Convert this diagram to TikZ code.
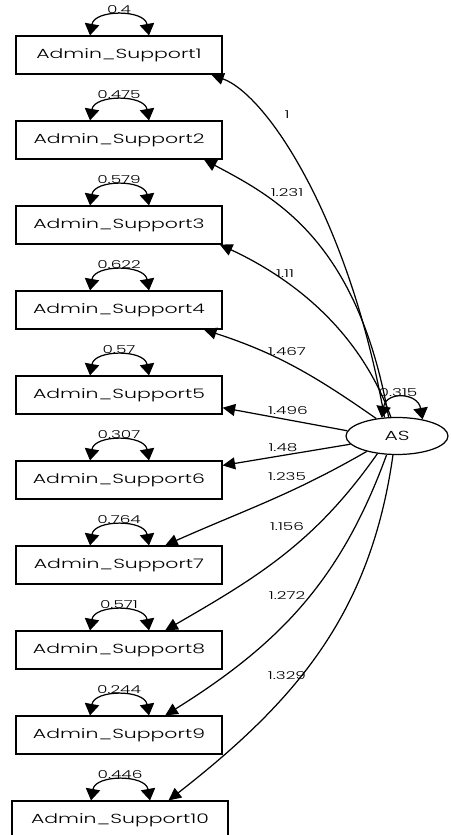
\documentclass[tikz,border=0pt]{standalone}
\usepackage{fontspec}
\setmainfont{Poppins}[FakeStretch=1.55, UprightFont=* Light]
\usetikzlibrary{arrows.meta,shapes.geometric}

\begin{document}
\begin{tikzpicture}[
    x=0.02cm, y=0.02cm,
    box/.style={draw, line width=0.7pt, minimum width=4.12cm, minimum height=0.76cm, inner sep=0pt, font=\fontsize{7.5}{9}\selectfont},
    latent/.style={draw, ellipse, line width=0.7pt, minimum width=2.04cm, minimum height=0.74cm, inner sep=0pt, font=\fontsize{7.5}{9}\selectfont},
    arrow/.style={-{Triangle[length=0.25cm,width=0.24cm]}, line width=0.7pt},
    dbl/.style={{Triangle[length=0.23cm,width=0.29cm]}-{Triangle[length=0.23cm,width=0.29cm]}, line width=0.7pt, out=80, in=100, looseness=1.15},
    coef/.style={font=\fontsize{6.2}{7}\selectfont, inner sep=0pt}
]
    \useasboundingbox (0,0) rectangle (450,835);

    % Indicators
    \node[box] (as1) at (119,780) {Admin\_Support1};
    \node[box] (as2) at (119,695) {Admin\_Support2};
    \node[box] (as3) at (119,610) {Admin\_Support3};
    \node[box] (as4) at (119,525) {Admin\_Support4};
    \node[box] (as5) at (119,440) {Admin\_Support5};
    \node[box] (as6) at (119,355) {Admin\_Support6};
    \node[box] (as7) at (119,270) {Admin\_Support7};
    \node[box] (as8) at (119,185) {Admin\_Support8};
    \node[box] (as9) at (119,100) {Admin\_Support9};
    \node[box, minimum width=4.32cm] (as10) at (120,15) {Admin\_Support10};

    % Latent factor
    \node[latent] (AS) at (397,399) {AS};

    % Error variances
    \draw[dbl] ([xshift=-0.58cm]as1.north) to ([xshift=0.6cm]as1.north);
    \draw[dbl] ([xshift=-0.58cm]as2.north) to ([xshift=0.6cm]as2.north);
    \draw[dbl] ([xshift=-0.58cm]as3.north) to ([xshift=0.6cm]as3.north);
    \draw[dbl] ([xshift=-0.58cm]as4.north) to ([xshift=0.6cm]as4.north);
    \draw[dbl] ([xshift=-0.58cm]as5.north) to ([xshift=0.6cm]as5.north);
    \draw[dbl] ([xshift=-0.58cm]as6.north) to ([xshift=0.6cm]as6.north);
    \draw[dbl] ([xshift=-0.58cm]as7.north) to ([xshift=0.6cm]as7.north);
    \draw[dbl] ([xshift=-0.58cm]as8.north) to ([xshift=0.6cm]as8.north);
    \draw[dbl] ([xshift=-0.58cm]as9.north) to ([xshift=0.6cm]as9.north);
    \draw[dbl] ([xshift=-0.58cm]as10.north) to ([xshift=0.6cm]as10.north);
    \draw[dbl, looseness=1.7] (AS.130) to (AS.33);

    \node[coef] at (119,825) {0.4};
    \node[coef] at (119,740) {0.475};
    \node[coef] at (119,655) {0.579};
    \node[coef] at (119,570) {0.622};
    \node[coef] at (119,485) {0.57};
    \node[coef] at (119,400) {0.307};
    \node[coef] at (119,315) {0.764};
    \node[coef] at (119,230) {0.571};
    \node[coef] at (119,145) {0.244};
    \node[coef] at (120,60) {0.446};
    \node[coef] at (398,442) {0.315};

    % Loadings
    \draw[arrow] (AS.124) .. controls +(100:200) and +(-20:60) .. (as1.-12);
    \draw[arrow] (AS.114) .. controls +(100:180) and +(-28:80) .. (as2.-13);
    \draw[arrow] (AS.108) .. controls +(110:100) and +(-25:70) .. (as3.-11);
    \draw[arrow] (AS.140) to[out=145,in=-18] (as4.-13);
    \draw[arrow] (AS.174) -- (as5.-7);
    \draw[arrow] (AS.190) -- (as6.8);
    \draw[arrow] (AS.207) to[out=210,in=24] (as7.23);
    \draw[arrow] (AS.222) to[out=235,in=30] (as8.23);
    \draw[arrow] (AS.241) to[out=250,in=32] (as9.23);
    \draw[arrow] (AS.258) to[out=262,in=38] (as10.22);

    % Labels on arrows
    \node[coef] at (287,720) {1};
    \node[coef] at (287,642) {1.231};
    \node[coef] at (285,561) {1.11};
    \node[coef] at (287,483) {1.467};
    \node[coef] at (288,424) {1.496};
    \node[coef] at (283,387) {1.48};
    \node[coef] at (287,358) {1.235};
    \node[coef] at (287,308) {1.156};
    \node[coef] at (287,239) {1.272};
    \node[coef] at (287,159) {1.329};
\end{tikzpicture}
\end{document}
